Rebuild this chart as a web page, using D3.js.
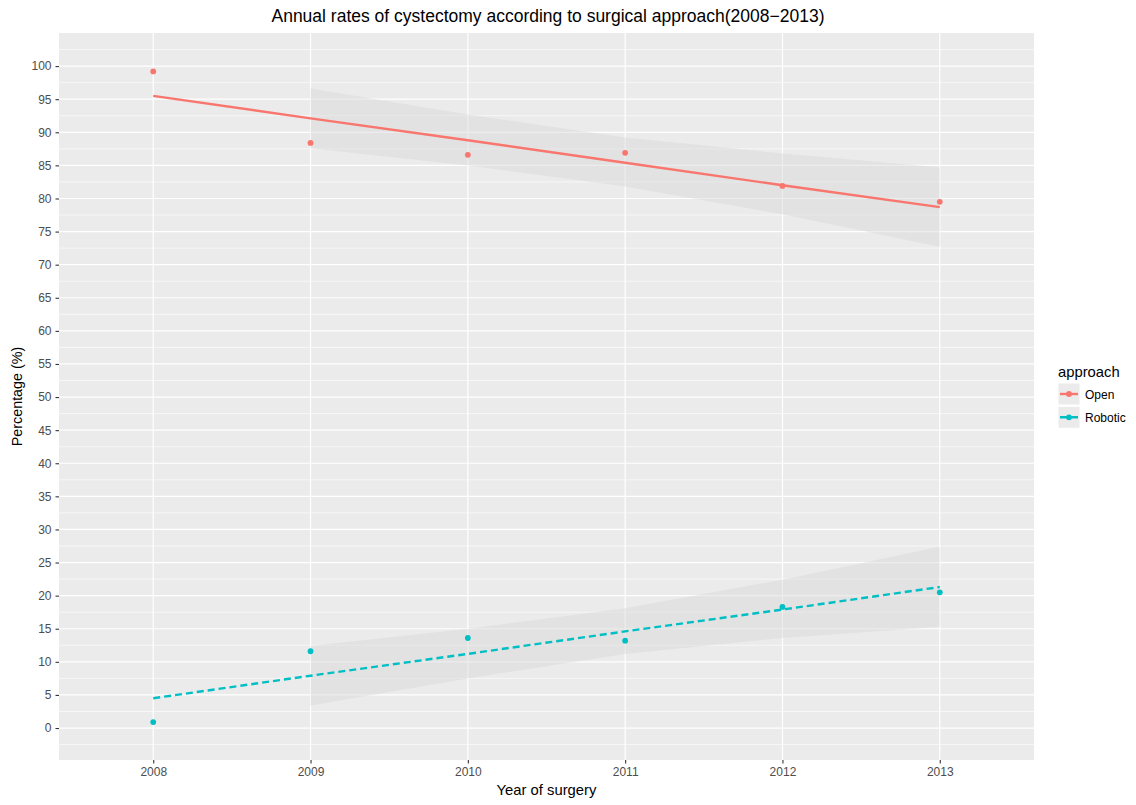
<!DOCTYPE html>
<html>
<head>
<meta charset="utf-8">
<script src="https://cdn.jsdelivr.net/npm/d3@7"></script>
<style>
  body { margin: 0; background: #fff; }
  svg { font-family: "Liberation Sans", Arial, sans-serif; }
</style>
</head>
<body>
<div class="canvas"></div>
<script>
// data
const years = [2008, 2009, 2010, 2011, 2012, 2013];
const seriesNames = ['Open', 'Robotic'];
const openPct = [99.2, 88.4, 86.6, 86.9, 81.9, 79.5];
const roboticPct = [0.9, 11.6, 13.6, 13.2, 18.3, 20.5];
// fitted trend lines
const openFit = [95.5, 92.1, 88.8, 85.4, 82.0, 78.7];
const roboticFit = [4.5, 7.9, 11.2, 14.6, 17.9, 21.3];
// confidence band (visible from 2009 on)
const bandYears = [2009, 2010, 2011, 2012, 2013];
const openUpper = [96.6, 92.7, 89.2, 86.8, 84.7];
const openLower = [87.6, 85.0, 81.8, 77.6, 72.7];
const roboticUpper = [12.4, 15.0, 18.1, 22.4, 27.4];
const roboticLower = [3.4, 7.5, 11.2, 13.6, 15.3];
const yTicks = d3.range(0, 101, 5);
const yMinor = d3.range(-2.5, 105, 5);

const dims = { width: 1136, height: 805 };
const panel = { left: 59, right: 1034, top: 33, bottom: 760 };
const colour = d3.scaleOrdinal().domain(seriesNames).range(['#F8766D', '#00BFC4']);

const svg = d3.select('.canvas')
    .append('svg')
    .attr('width', dims.width)
    .attr('height', dims.height);

const x = d3.scaleLinear().domain([2007.401, 2013.599]).range([panel.left, panel.right]);
const y = d3.scaleLinear().domain([-4.83, 105]).range([panel.bottom, panel.top]);

// panel background
svg.append('rect')
    .attr('x', panel.left).attr('y', panel.top)
    .attr('width', panel.right - panel.left)
    .attr('height', panel.bottom - panel.top)
    .attr('fill', '#EBEBEB');

const grid = svg.append('g');
grid.selectAll('.minor')
    .data(yMinor)
    .enter().append('line')
    .attr('x1', panel.left).attr('x2', panel.right)
    .attr('y1', d => y(d)).attr('y2', d => y(d))
    .attr('stroke', '#fff').attr('stroke-width', 0.6);
grid.selectAll('.major-y')
    .data(yTicks)
    .enter().append('line')
    .attr('x1', panel.left).attr('x2', panel.right)
    .attr('y1', d => y(d)).attr('y2', d => y(d))
    .attr('stroke', '#fff').attr('stroke-width', 1.2);
grid.selectAll('.major-x')
    .data(years)
    .enter().append('line')
    .attr('y1', panel.top).attr('y2', panel.bottom)
    .attr('x1', d => x(d)).attr('x2', d => x(d))
    .attr('stroke', '#fff').attr('stroke-width', 1.2);

const series = [
    { name: 'Open', pts: openPct, fit: openFit, upper: openUpper, lower: openLower, dash: null },
    { name: 'Robotic', pts: roboticPct, fit: roboticFit, upper: roboticUpper, lower: roboticLower, dash: '7,4' }
];

const band = d3.area()
    .x((d, i) => x(bandYears[i]))
    .y0(d => y(d[0]))
    .y1(d => y(d[1]));

const fitLine = d3.line()
    .x((d, i) => x(years[i]))
    .y(d => y(d));

const graph = svg.append('g');

series.forEach(s => {
    graph.append('path')
        .attr('d', band(s.lower.map((v, i) => [v, s.upper[i]])))
        .attr('fill', '#d6d6d6')
        .attr('fill-opacity', 0.45);
});

series.forEach(s => {
    graph.selectAll(null)
        .data(s.pts)
        .enter().append('circle')
        .attr('cx', (d, i) => x(years[i]))
        .attr('cy', d => y(d))
        .attr('r', 2.9)
        .attr('fill', colour(s.name));

    graph.append('path')
        .attr('d', fitLine(s.fit))
        .attr('fill', 'none')
        .attr('stroke', colour(s.name))
        .attr('stroke-width', 2.4)
        .attr('stroke-dasharray', s.dash);
});

// axes
const yAxis = svg.append('g')
    .attr('transform', `translate(${panel.left},0)`)
    .call(d3.axisLeft(y).tickValues(yTicks).tickSize(3.5).tickPadding(4));
const xAxis = svg.append('g')
    .attr('transform', `translate(0,${panel.bottom})`)
    .call(d3.axisBottom(x).tickValues(years).tickFormat(d3.format('d')).tickSize(3.5).tickPadding(3.5));

[yAxis, xAxis].forEach(a => {
    a.select('.domain').remove();
    a.selectAll('.tick line').attr('stroke', '#333').attr('stroke-width', 1.1);
    a.selectAll('.tick text')
        .attr('fill', '#4D4D4D')
        .style('font-size', '12px')
        .style('font-family', '"Liberation Sans", Arial, sans-serif');
});

// titles
svg.append('text')
    .attr('x', 548).attr('y', 22)
    .attr('text-anchor', 'middle')
    .style('font-size', '17.5px')
    .attr('fill', '#000')
    .text('Annual rates of cystectomy according to surgical approach(2008\u22122013)');

svg.append('text')
    .attr('x', (panel.left + panel.right) / 2).attr('y', 795)
    .attr('text-anchor', 'middle')
    .style('font-size', '14.8px')
    .text('Year of surgery');

svg.append('text')
    .attr('transform', `translate(22,${(panel.top + panel.bottom) / 2}) rotate(-90)`)
    .attr('text-anchor', 'middle')
    .style('font-size', '14.3px')
    .text('Percentage (%)');

// legend
const legendGroup = svg.append('g').attr('transform', 'translate(1058,0)');
legendGroup.append('text')
    .attr('x', 0).attr('y', 377)
    .style('font-size', '14.8px')
    .text('approach');

const keys = legendGroup.selectAll('.key')
    .data(seriesNames)
    .enter().append('g')
    .attr('transform', (d, i) => `translate(0,${383 + i * 23.3})`);

keys.append('rect')
    .attr('width', 22).attr('height', 22)
    .attr('fill', '#EBEBEB')
    .attr('stroke', '#fff').attr('stroke-width', 1);
keys.append('line')
    .attr('x1', 2).attr('x2', 20)
    .attr('y1', 11).attr('y2', 11)
    .attr('stroke', d => colour(d))
    .attr('stroke-width', 2.4)
    .attr('stroke-dasharray', (d, i) => series[i].dash);
keys.append('circle')
    .attr('cx', 11).attr('cy', 11).attr('r', 2.9)
    .attr('fill', d => colour(d));
keys.append('text')
    .attr('x', 27).attr('y', 15.5)
    .style('font-size', '12px')
    .attr('fill', '#000')
    .text(d => d);
</script>
</body>
</html>
